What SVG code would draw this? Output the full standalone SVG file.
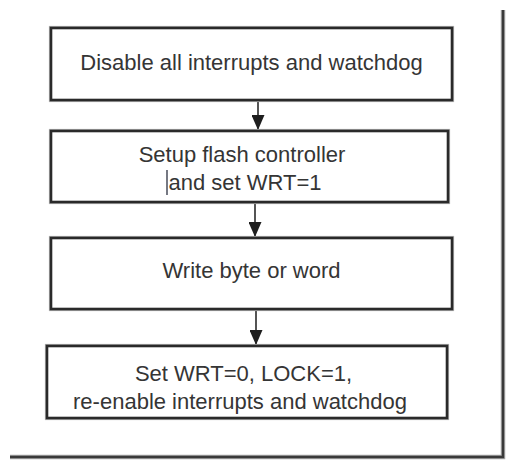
<svg xmlns="http://www.w3.org/2000/svg" width="507" height="463" viewBox="0 0 507 463">
  <style>
    .box { fill: #ffffff; stroke: #2a2a2a; stroke-width: 2.6; }
    .halo { fill: none; stroke: #b0b0b0; stroke-width: 4.2; }
    .lbl { font-family: "Liberation Sans", Arial, sans-serif; font-size: 22px; fill: #353535; text-anchor: middle; }
    .wire { stroke: #2a2a2a; stroke-width: 1.6; fill: none; }
    .frame { stroke: #3a3a3a; stroke-width: 2.4; fill: none; }
    .frame-halo { stroke: #a8a8a8; stroke-width: 4.5; fill: none; }
  </style>
  <defs>
    <marker id="arrowhead" markerUnits="userSpaceOnUse" markerWidth="16" markerHeight="13" refX="15" refY="6.5" orient="auto">
      <path d="M0,0 L15,6.5 L0,13 Z" fill="#1e1e1e"/>
    </marker>
  </defs>

  <rect width="507" height="463" fill="#ffffff"/>

  <!-- page frame: right and bottom edges -->
  <g id="frame">
    <path class="frame-halo" d="M503,10 V457 H10"/>
    <path class="frame" d="M503,10 V457 H10"/>
  </g>

  <!-- connectors -->
  <g id="connectors">
    <line class="wire" x1="258" y1="100" x2="258" y2="130" marker-end="url(#arrowhead)"/>
    <line class="wire" x1="255" y1="202" x2="255" y2="237" marker-end="url(#arrowhead)"/>
    <line class="wire" x1="256" y1="309" x2="256" y2="345" marker-end="url(#arrowhead)"/>
  </g>

  <g id="disable">
    <rect class="halo" x="51" y="28" width="401" height="72"/>
    <rect class="box" x="51" y="28" width="401" height="72"/>
    <text class="lbl" x="251.5" y="70">Disable all interrupts and watchdog</text>
  </g>

  <g id="setup">
    <rect class="halo" x="51" y="131" width="397" height="71"/>
    <rect class="box" x="51" y="131" width="397" height="71"/>
    <text class="lbl" x="242" y="162">Setup flash controller</text>
    <text class="lbl" x="245" y="190">and set WRT=1</text>
    <line x1="167" y1="170" x2="167" y2="195" stroke="#2c3040" stroke-width="1.3"/>
  </g>

  <g id="write">
    <rect class="halo" x="51" y="238" width="401" height="71"/>
    <rect class="box" x="51" y="238" width="401" height="71"/>
    <text class="lbl" x="251.5" y="278">Write byte or word</text>
  </g>

  <g id="finish">
    <rect class="halo" x="47" y="346" width="400" height="72"/>
    <rect class="box" x="47" y="346" width="400" height="72"/>
    <text class="lbl" x="243.5" y="381">Set WRT=0, LOCK=1,</text>
    <text class="lbl" x="240" y="409">re-enable interrupts and watchdog</text>
  </g>
</svg>
